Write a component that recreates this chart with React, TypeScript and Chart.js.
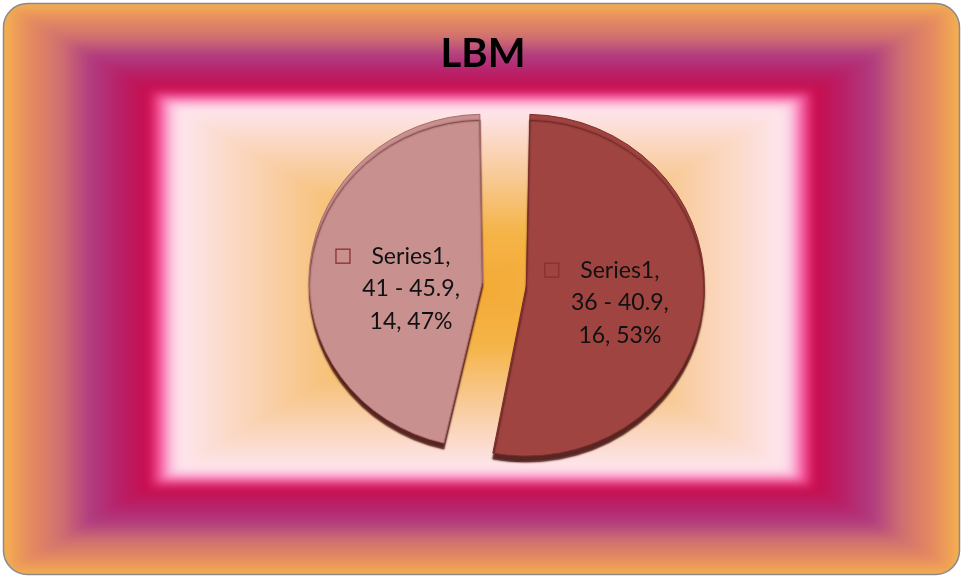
import React, { useEffect, useRef } from 'react';
import { Chart, registerables } from 'chart.js';
Chart.register(...registerables);

const W = 962;
const H = 579;

const title = 'LBM';
const seriesName = 'Series1';
const categories = ['36 - 40.9', '41 - 45.9'];
const values = [16, 14];
const sliceColors = ['#9f4441', '#c8908f'];
const sliceBorders = ['#7a2c2a', '#a66a69'];

const FONT = 'Lato, "Open Sans", sans-serif';
const SLICE_OFFSET = 88; // chart.js draws offset/4
const PIE_Y_SCALE = 0.96;
const labelDist = [94, 72];
const labelDy = [7, 15];
const LINE_H = 32.5;

type RGB = [number, number, number];
const bgStops: [number, RGB][] = [
  [0, [244, 170, 54]],
  [0.2, [245, 180, 72]],
  [0.38, [248, 200, 144]],
  [0.55, [252, 220, 208]],
  [0.63, [253, 230, 238]],
  [0.65, [252, 196, 222]],
  [0.672, [248, 88, 160]],
  [0.697, [200, 12, 76]],
  [0.756, [184, 32, 104]],
  [0.818, [176, 60, 128]],
  [0.88, [208, 112, 112]],
  [0.944, [229, 138, 96]],
  [1.0, [245, 176, 80]],
];

const FX0 = 3.5, FY0 = 3.5, FX1 = 959.5, FY1 = 574.5, FR = 24;

let bgCache: HTMLCanvasElement | null = null;
function getBg(): HTMLCanvasElement {
  if (bgCache) return bgCache;
  const PAD = 20;
  const raw = document.createElement('canvas');
  raw.width = W + PAD * 2;
  raw.height = H + PAD * 2;
  const g = raw.getContext('2d')!;
  const img = g.createImageData(raw.width, raw.height);
  const cx = (FX0 + FX1) / 2, cy = (FY0 + FY1) / 2;
  const hw = (FX1 - FX0) / 2, hh = (FY1 - FY0) / 2;
  for (let yy = 0; yy < raw.height; yy++) {
    const y = yy - PAD;
    for (let xx = 0; xx < raw.width; xx++) {
      const x = xx - PAD;
      let t = Math.max(Math.abs(x + 0.5 - cx) / hw, Math.abs(y + 0.5 - cy) / hh);
      if (t > 1) t = 1;
      let k = 0;
      while (k < bgStops.length - 2 && bgStops[k + 1][0] < t) k++;
      const [t0, c0] = bgStops[k];
      const [t1, c1] = bgStops[k + 1];
      const f = Math.min(1, Math.max(0, (t - t0) / (t1 - t0)));
      const i = (yy * raw.width + xx) * 4;
      img.data[i] = c0[0] + (c1[0] - c0[0]) * f;
      img.data[i + 1] = c0[1] + (c1[1] - c0[1]) * f;
      img.data[i + 2] = c0[2] + (c1[2] - c0[2]) * f;
      img.data[i + 3] = 255;
    }
  }
  g.putImageData(img, 0, 0);
  const c = document.createElement('canvas');
  c.width = W;
  c.height = H;
  const g2 = c.getContext('2d')!;
  (g2 as any).filter = 'blur(4px)';
  g2.drawImage(raw, -PAD, -PAD);
  (g2 as any).filter = 'none';
  bgCache = c;
  return c;
}

function framePath(ctx: CanvasRenderingContext2D) {
  ctx.beginPath();
  ctx.moveTo(FX0 + FR, FY0);
  ctx.lineTo(FX1 - FR, FY0);
  ctx.arcTo(FX1, FY0, FX1, FY0 + FR, FR);
  ctx.lineTo(FX1, FY1 - FR);
  ctx.arcTo(FX1, FY1, FX1 - FR, FY1, FR);
  ctx.lineTo(FX0 + FR, FY1);
  ctx.arcTo(FX0, FY1, FX0, FY1 - FR, FR);
  ctx.lineTo(FX0, FY0 + FR);
  ctx.arcTo(FX0, FY0, FX0 + FR, FY0, FR);
  ctx.closePath();
}

const backgroundPlugin = {
  id: 'bgFrame',
  beforeDraw(chart: any) {
    const ctx: CanvasRenderingContext2D = chart.ctx;
    ctx.save();
    ctx.fillStyle = '#ffffff';
    ctx.fillRect(0, 0, W, H);
    framePath(ctx);
    ctx.save();
    ctx.clip();
    ctx.drawImage(getBg(), 0, 0);
    ctx.restore();
    framePath(ctx);
    ctx.lineWidth = 1.5;
    ctx.strokeStyle = '#8a8a8a';
    ctx.stroke();
    ctx.restore();
  },
};

const shadowPlugin = {
  id: 'pieRim',
  beforeDatasetsDraw(chart: any) {
    const ctx: CanvasRenderingContext2D = chart.ctx;
    const a = chart.getDatasetMeta(0).data[0];
    ctx.save();
    if (a) {
      ctx.translate(a.x, a.y);
      ctx.scale(1, PIE_Y_SCALE);
      ctx.translate(-a.x, -a.y);
    }
    ctx.shadowColor = 'rgba(70,18,16,0.9)';
    ctx.shadowOffsetX = 0;
    ctx.shadowOffsetY = 6;
    ctx.shadowBlur = 1.5;
  },
  afterDatasetsDraw(chart: any) {
    chart.ctx.restore();
  },
};

const labelPlugin = {
  id: 'textLabels',
  afterDraw(chart: any) {
    const ctx: CanvasRenderingContext2D = chart.ctx;
    ctx.save();
    ctx.fillStyle = '#000000';
    ctx.font = `bold 40px ${FONT}`;
    ctx.textAlign = 'center';
    ctx.textBaseline = 'alphabetic';
    ctx.fillText(title, 483, 67);

    const total = values.reduce((a, b) => a + b, 0);
    const meta = chart.getDatasetMeta(0);
    ctx.font = `23px ${FONT}`;
    meta.data.forEach((arc: any, i: number) => {
      const p = arc.getProps(['x', 'y', 'startAngle', 'endAngle'], true);
      const mid = (p.startAngle + p.endAngle) / 2;
      const off = SLICE_OFFSET / 4;
      const vx = p.x + Math.cos(mid) * off;
      const vy = p.y + Math.sin(mid) * off;
      const lx = vx + Math.cos(mid) * labelDist[i];
      const ly = vy + Math.sin(mid) * labelDist[i] + labelDy[i];
      const pct = Math.round((values[i] / total) * 100);
      const lines = [`${seriesName},`, `${categories[i]},`, `${values[i]}, ${pct}%`];
      ctx.fillStyle = '#111111';
      ctx.textAlign = 'center';
      lines.forEach((s, j) => {
        const cyLine = ly + (j - 1) * LINE_H;
        ctx.fillText(s, lx, cyLine + 8);
      });
      const w0 = ctx.measureText(lines[0]).width;
      const sx = lx - w0 / 2 - 22 - 14;
      const sy = ly - LINE_H - 7;
      ctx.strokeStyle = '#8c2f2f';
      ctx.lineWidth = 1.3;
      ctx.strokeRect(sx + 0.5, sy + 0.5, 14, 14);
    });
    ctx.restore();
  },
};

export default function App() {
  const ref = useRef<HTMLCanvasElement | null>(null);
  useEffect(() => {
    if (!ref.current) return;
    const chart = new Chart(ref.current, {
      type: 'pie',
      data: {
        labels: categories,
        datasets: [
          {
            label: seriesName,
            data: values,
            backgroundColor: sliceColors,
            borderColor: sliceBorders,
            borderWidth: 1,
            offset: SLICE_OFFSET,
            radius: 156,
          } as any,
        ],
      },
      options: {
        responsive: false,
        animation: false,
        events: [],
        layout: { padding: { left: 47, right: 0, top: 0, bottom: 13 } },
        plugins: {
          legend: { display: false },
          title: { display: false },
          tooltip: { enabled: false },
        },
      },
      plugins: [backgroundPlugin, shadowPlugin, labelPlugin],
    });
    return () => chart.destroy();
  }, []);
  return (
    <div style={{ position: 'fixed', left: 0, top: 0, width: W, height: H, background: '#fff' }}>
      <canvas ref={ref} width={W} height={H} style={{ display: 'block', width: W, height: H }} />
    </div>
  );
}
